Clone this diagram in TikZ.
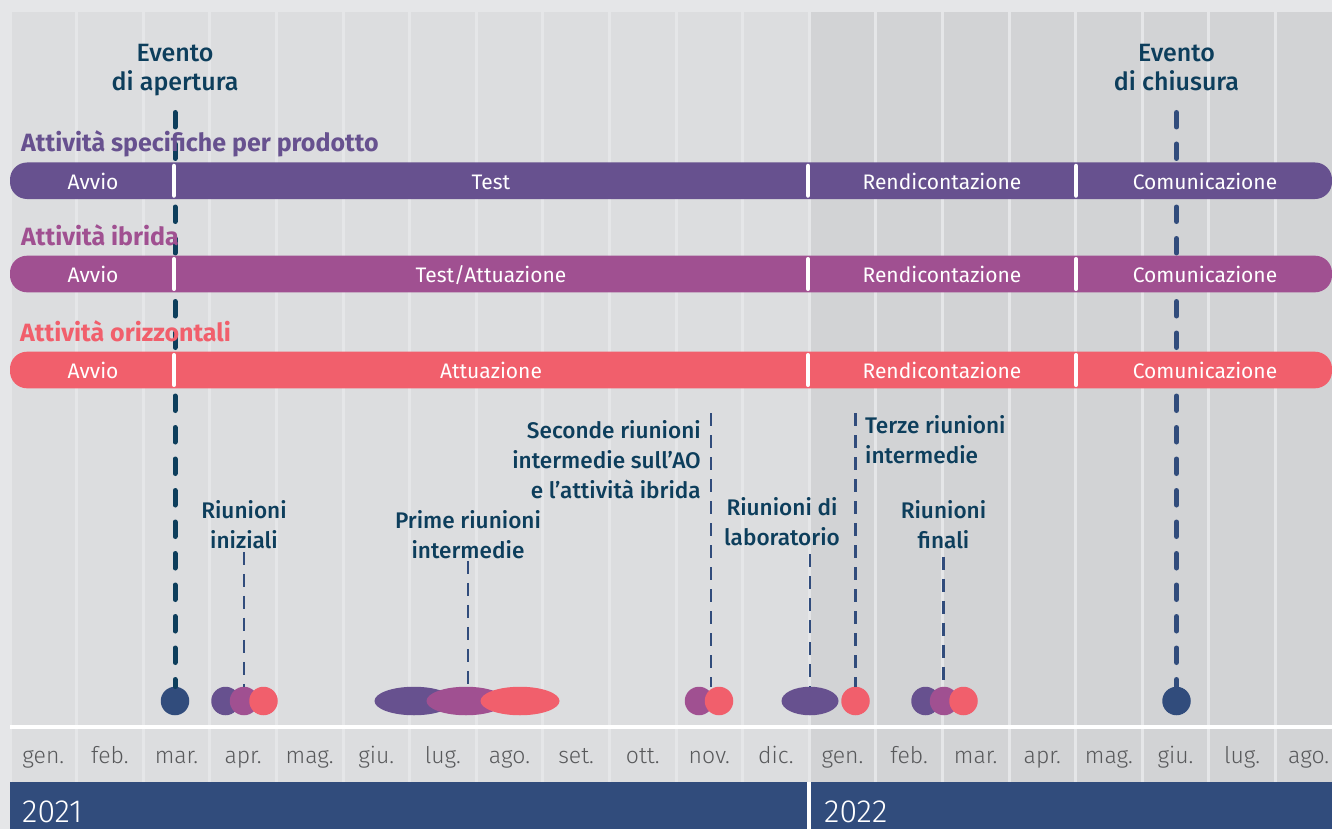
\documentclass[tikz,border=0pt]{standalone}
\usepackage{fontspec}
\setmainfont{Fira Sans}
\newfontfamily\medfont{Fira Sans Medium}
\newfontfamily\lightfont{Fira Sans Light}
\usetikzlibrary{shapes.geometric,positioning}

\definecolor{bgOut}{HTML}{E5E6E8}
\definecolor{colA}{HTML}{DCDDDF}
\definecolor{colB}{HTML}{D2D3D5}
\definecolor{cPur}{HTML}{67518F}
\definecolor{cMag}{HTML}{A05091}
\definecolor{cCor}{HTML}{F15F6C}
\definecolor{cNavy}{HTML}{314C7C}
\definecolor{cTeal}{HTML}{0D3E5C}
\definecolor{cMonth}{HTML}{58595B}

\begin{document}
\begin{tikzpicture}[x=1pt,y=-1pt]
  \tikzset{
  rowlab/.style={anchor=base west,inner sep=0pt,font=\fontsize{25}{29}\selectfont\bfseries},
  bartxt/.style={white,anchor=base,inner sep=0pt,font=\fontsize{21}{25}\selectfont},
  evlab/.style={cTeal,align=center,anchor=north,inner sep=0pt,font=\medfont\fontsize{25}{29}\selectfont},
  meetlab/.style={cTeal,inner sep=0pt,font=\medfont\fontsize{22.6}{30}\selectfont},
  month/.style={cMonth,anchor=base,inner sep=0pt,font=\lightfont\fontsize{23}{27}\selectfont},
  year/.style={white,anchor=base west,inner sep=0pt,font=\lightfont\fontsize{32}{36}\selectfont},
  dot/.style={ellipse,inner sep=0pt,minimum height=28.5pt,minimum width=28.5pt},
  wide/.style={minimum width=79pt},
  evline/.style={line width=5pt,line cap=round,dash pattern=on 14.5pt off 17pt},
  meetline/.style={cNavy,line width=2.9pt,dash pattern=on 13pt off 9pt},
  barsep/.style={white,line width=4.5pt,line cap=round},
  }
  \useasboundingbox (0,0) rectangle (1332,829);

  % the background and the month columns
  \fill[bgOut] (0,0) rectangle (1332,829);
  \foreach \i in {0,...,19}{
    \ifnum\i<12 \def\colfill{colA}\else\def\colfill{colB}\fi
    \pgfmathsetmacro\xa{10+66.6*\i+1.5}
    \pgfmathsetmacro\xb{min(10+66.6*(\i+1)-1.5,1332)}
    \fill[\colfill] (\xa,12) rectangle (\xb,782);
  }
  \fill[white] (10,724.5) rectangle (1332,728.5);
  \fill[cNavy] (10,782) rectangle (1332,829);
  \fill[white] (807.2,782) rectangle (811.2,829);

  % the month names and the years
  \foreach \m [count=\i from 0] in {gen.,feb.,mar.,apr.,mag.,giu.,lug.,ago.,set.,ott.,nov.,dic.,gen.,feb.,mar.,apr.,mag.,giu.,lug.,ago.}
    \node[month] (m\i) at ({10+66.6*(\i+0.5)},763) {\m};
  \node[year] (y21) at (22,822) {2021};
  \node[year] (y22) at (824,822) {2022};

  % the dots
  \node[dot,fill=cNavy] (dotA) at (175,701) {};
  \node[dot,fill=cNavy] (dotB) at (1176.5,701) {};

  \node[dot,fill=cPur] (iniP) at (225.5,701) {};
  \node[dot,fill=cMag] (iniM) at (244,701) {};
  \node[dot,fill=cCor] (iniC) at (263.5,701) {};

  \node[dot,wide,fill=cPur] (priP) at (414,701) {};
  \node[dot,wide,fill=cMag] (priM) at (466,701) {};
  \node[dot,wide,fill=cCor] (priC) at (520,701) {};

  \node[dot,fill=cMag] (secM) at (699,701) {};
  \node[dot,fill=cCor] (secC) at (719,701) {};

  \node[dot,minimum width=57pt,fill=cPur] (labP) at (810,701) {};
  \node[dot,fill=cCor] (terC) at (855.5,701) {};

  \node[dot,fill=cPur] (finP) at (925.5,701) {};
  \node[dot,fill=cMag] (finM) at (944,701) {};
  \node[dot,fill=cCor] (finC) at (963.5,701) {};

  % the two events
  \node[evlab] (evA) at (175,44) {Evento\\di apertura};
  \node[evlab] (evB) at (1176.5,44) {Evento\\di chiusura};
  \coordinate (evAtop) at (175,112.5);
  \coordinate (evBtop) at (1176.5,112.5);
  \draw[evline,cTeal] (evAtop) -- (dotA.north);
  \draw[evline,cNavy] (evBtop) -- (dotB.north);

  % the meetings
  \node[meetlab,align=center,anchor=north] (lbIni) at (244,500) {Riunioni\\iniziali};
  \node[meetlab,align=center,anchor=north] (lbPri) at (468,510) {Prime riunioni\\intermedie};
  \node[meetlab,align=right,anchor=north east] (lbSec) at (701,420) {Seconde riunioni\\intermedie sull’AO\\e l’attività ibrida};
  \node[meetlab,align=center,anchor=north] (lbLab) at (782,497) {Riunioni di\\laboratorio};
  \node[meetlab,align=left,anchor=north west] (lbTer) at (865,415) {Terze riunioni\\intermedie};
  \node[meetlab,align=center,anchor=north] (lbFin) at (943.5,500) {Riunioni\\finali};

  \coordinate (secTop) at (711,413);
  \coordinate (terTop) at (855.5,413);
  \coordinate (labTop) at (810,554);
  \draw[meetline,shorten <=3pt] (lbIni.south) -- (lbIni.south |- iniM.north);
  \draw[meetline,shorten <=2pt] (lbPri.south) -- (lbPri.south |- priM.north);
  \draw[meetline] (secTop) -- (secTop |- secC.north);
  \draw[meetline] (labTop) -- (labP.north);
  \draw[meetline] (terTop) -- (terC.north);
  \draw[meetline,shorten <=8pt] (lbFin.south) -- (lbFin.south |- finM.north);

  % the three rows of activities
  \node[rowlab,cPur] (rowSp) at (21,152) {Attività specifiche per prodotto};
  \fill[cPur,rounded corners=17pt] (10,162.5) rectangle (1332,199);
  \node[bartxt] (spA) at (93,189.3) {Avvio};
  \node[bartxt] (spT) at (491,189.3) {Test};
  \node[bartxt] (spR) at (942,189.3) {Rendicontazione};
  \node[bartxt] (spC) at (1205,189.3) {Comunicazione};

  \node[rowlab,cMag] (rowIb) at (21,245) {Attività ibrida};
  \fill[cMag,rounded corners=17pt] (10,255.7) rectangle (1332,292.3);
  \node[bartxt] (ibA) at (93,282.7) {Avvio};
  \node[bartxt] (ibT) at (491,282.7) {Test/Attuazione};
  \node[bartxt] (ibR) at (942,282.7) {Rendicontazione};
  \node[bartxt] (ibC) at (1205,282.7) {Comunicazione};

  \node[rowlab,cCor] (rowOr) at (20,341) {Attività orizzontali};
  \fill[cCor,rounded corners=17pt] (10,351.7) rectangle (1332,388.3);
  \node[bartxt] (orA) at (93,378.8) {Avvio};
  \node[bartxt] (orT) at (491,378.8) {Attuazione};
  \node[bartxt] (orR) at (942,378.8) {Rendicontazione};
  \node[bartxt] (orC) at (1205,378.8) {Comunicazione};

  % the breaks inside the bars
  \foreach \x in {174,808,1076}{
    \draw[barsep] (\x,166) -- (\x,195.5);
    \draw[barsep] (\x,259.2) -- (\x,288.8);
    \draw[barsep] (\x,355.2) -- (\x,384.8);
  }
\end{tikzpicture}
\end{document}
